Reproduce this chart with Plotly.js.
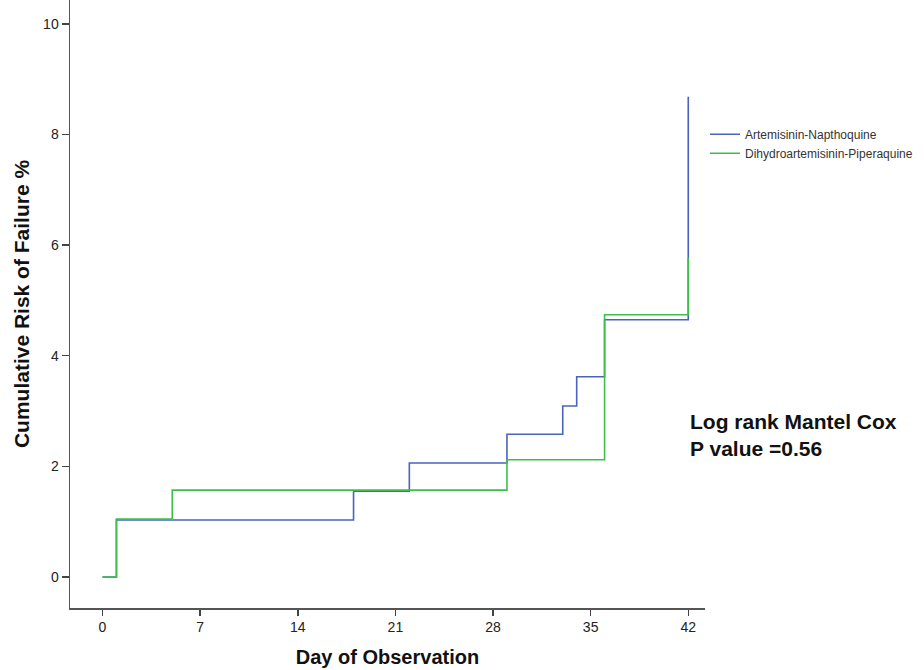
<!DOCTYPE html>
<html>
<head>
<meta charset="utf-8">
<script src="https://cdn.plot.ly/plotly-3.0.1.min.js"></script>
<style>html,body{margin:0;padding:0;background:#fff;}#chart{width:924px;height:670px;}</style>
</head>
<body>
<div id="chart"></div>
<script>
// Step-change days and cumulative risk (%)
const seriesNames = ["Artemisinin-Napthoquine", "Dihydroartemisinin-Piperaquine"];
const anDays = [0, 1, 18, 22, 29, 33, 34, 36, 42];
const anRisk = [0, 1.03, 1.55, 2.06, 2.58, 3.09, 3.62, 4.65, 8.68];
const dpDays = [0, 1, 5, 29, 36, 42];
const dpRisk = [0, 1.05, 1.57, 2.12, 4.74, 5.77];
const xTicks = [0, 7, 14, 21, 28, 35, 42];
const yTicks = [0, 2, 4, 6, 8, 10];

const FONT = "Liberation Sans, Arial, sans-serif";

const traces = [
  {x: anDays, y: anRisk, name: seriesNames[0], mode: "lines",
   line: {shape: "hv", color: "#4a62c0", width: 1.6}},
  {x: dpDays, y: dpRisk, name: seriesNames[1], mode: "lines",
   line: {shape: "hv", color: "#3cc04a", width: 1.6}}
];

const layout = {
  width: 924, height: 670,
  margin: {l: 70, r: 219, t: 0, b: 62},
  paper_bgcolor: "#fff", plot_bgcolor: "#fff",
  font: {family: FONT, color: "#222"},
  showlegend: true,
  legend: {x: 1.0, xanchor: "left", y: 0.803, yanchor: "top",
           font: {size: 12, color: "#333"}, bgcolor: "rgba(0,0,0,0)",
           tracegroupgap: 0},
  xaxis: {
    range: [-2.33, 43.2], tickvals: xTicks, ticktext: xTicks.map(String),
    showgrid: false, zeroline: false, showline: true, linecolor: "#555", linewidth: 1.5,
    ticks: "outside", ticklen: 6, tickwidth: 1.5, tickcolor: "#444",
    tickfont: {size: 14, color: "#222"},
    title: {text: "Day of Observation", font: {size: 20, color: "#111", family: FONT, weight: "bold"}, standoff: 15}
  },
  yaxis: {
    range: [-0.56, 10.43], tickvals: yTicks, ticktext: yTicks.map(String),
    showgrid: false, zeroline: false, showline: true, linecolor: "#555", linewidth: 1.5,
    ticks: "outside", ticklen: 7, tickwidth: 1.5, tickcolor: "#444",
    tickfont: {size: 14, color: "#222"},
    title: {text: "Cumulative Risk of Failure %", font: {size: 21, color: "#111", family: FONT, weight: "bold"}, standoff: 8}
  },
  annotations: [{
    xref: "paper", yref: "paper", x: 0.973, y: 0.285, xanchor: "left", yanchor: "middle",
    align: "left", showarrow: false,
    text: "<b>Log rank Mantel Cox<br>P value =0.56</b>",
    font: {size: 21, color: "#111", family: FONT}
  }]
};

Plotly.newPlot("chart", traces, layout, {displayModeBar: false, staticPlot: true});
</script>
</body>
</html>
